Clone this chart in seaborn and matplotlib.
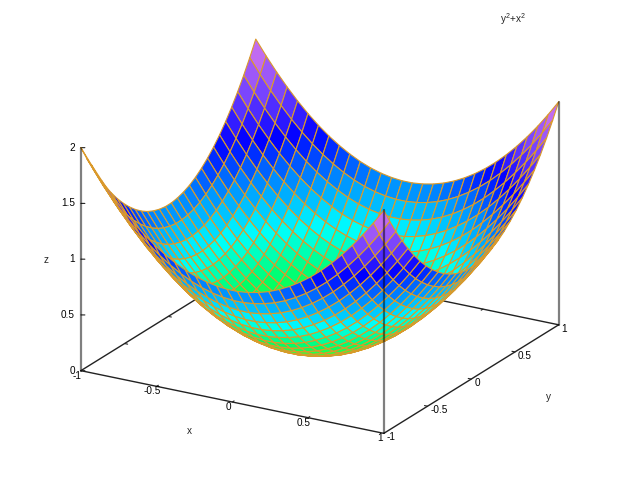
import numpy as np
import seaborn as sns
import matplotlib
matplotlib.use("Agg")
import matplotlib.pyplot as plt
from mpl_toolkits.mplot3d import proj3d

# grid of the surface, 30 samples per side
grid_half = [0.034, 0.103, 0.172, 0.241, 0.310, 0.379, 0.448, 0.517,
             0.586, 0.655, 0.724, 0.793, 0.862, 0.931, 1.0]
# squared grid values, the two terms of the y^2+x^2 in the chart title
square_half = [0.001, 0.011, 0.030, 0.058, 0.096, 0.144, 0.201, 0.267,
               0.343, 0.429, 0.524, 0.629, 0.743, 0.867, 1.0]

x_ticks = [-1, -0.5, 0, 0.5, 1]
y_ticks = [-1, -0.5, 0, 0.5, 1]
z_ticks = [0, 0.5, 1, 1.5, 2]
tick_text = {-1: "-1", -0.5: "-0.5", 0: "0", 0.5: "0.5", 1: "1", 1.5: "1.5", 2: "2"}
palette_colors = ["#7CFF00", "#00FF66", "#00FFFF", "#0090FF", "#0000FF", "#7040FF", "#C870F0"]

sns.set_theme(style="white")
plt.rcParams["font.family"] = ["Liberation Sans", "DejaVu Sans"]
plt.rcParams["font.size"] = 7.2

grid = np.array([-v for v in grid_half[::-1]] + grid_half)
squares = np.array(square_half[::-1] + square_half)
X, Y = np.meshgrid(grid, grid)
Z = np.add.outer(squares, squares)

fig = plt.figure(figsize=(6.4, 4.8), dpi=100, facecolor="white")
ax = fig.add_axes([-6.7 / 640, -2.7 / 480, 1, 1], projection="3d", computed_zorder=False)
ax.set_proj_type("ortho")
ax.view_init(elev=21, azim=-60)
ax.set_box_aspect((1, 1, 0.683), zoom=1.111)
ax.set_xlim(-1, 1, view_margin=0)
ax.set_ylim(-1, 1, view_margin=0)
ax.set_zlim(0, 2, view_margin=0)
ax.set_axis_off()

# the surface runs wider than the square 3d axes box, so nothing gets clipped
base = dict(color="#222222", lw=1, zorder=1, clip_on=False)
tick = dict(color="#222222", lw=0.8, zorder=1, clip_on=False)
edge = dict(color="black", alpha=0.5, lw=1.6, zorder=3, clip_on=False)

# base of the box, the back edges go under the surface
ax.plot([-1, 1], [-1, -1], [0, 0], **base)
ax.plot([1, 1], [-1, 1], [0, 0], **base)
ax.plot([1, -1], [1, 1], [0, 0], **base)
ax.plot([-1, -1], [1, -1], [0, 0], **base)

for t in x_ticks[1:-1]:
    ax.plot([t, t], [-1, -0.98], [0, 0], **tick)
    ax.plot([t, t], [1, 0.98], [0, 0], **tick)
for t in y_ticks[1:-1]:
    ax.plot([1, 0.98], [t, t], [0, 0], **tick)
    ax.plot([-1, -0.98], [t, t], [0, 0], **tick)
for t in z_ticks:
    ax.plot([-1, -0.98], [-1, -0.989], [t, t], **tick)

cmap = sns.blend_palette(palette_colors, as_cmap=True)
ax.plot_surface(X, Y, Z, rstride=1, cstride=1, cmap=cmap, vmin=0, vmax=1.9,
                edgecolor="#DB9A2A", linewidth=0.8, shade=False, zorder=2, clip_on=False)

# vertical edges are see through, they darken the surface behind them
ax.plot([-1, -1], [-1, -1], [0, 2], **edge)
ax.plot([1, 1], [1, 1], [0, 2], **edge)
ax.plot([1, 1], [-1, -1], [0, 2], **edge)


def tick_label(x, y, z, text, dx, dy, ha):
    xp, yp, _ = proj3d.proj_transform(x, y, z, ax.get_proj())
    ax.annotate(text, xy=(xp, yp), xycoords="data", xytext=(dx, dy),
                textcoords="offset pixels", ha=ha, va="center",
                annotation_clip=False, color="black", zorder=4)


for t in x_ticks:
    tick_label(t, -1, 0, tick_text[t], -4, -5, "center")
for t in y_ticks:
    tick_label(1, t, 0, tick_text[t], 3, -4, "left")
for t in z_ticks:
    tick_label(-1, -1, t, tick_text[t], -6, 0, "right")

fig.text(189 / 640, 1 - 431 / 480, "x", ha="center", va="center")
fig.text(548 / 640, 1 - 397 / 480, "y", ha="center", va="center")
fig.text(46 / 640, 1 - 260 / 480, "z", ha="center", va="center")
fig.text(513 / 640, 1 - 19 / 480, r"$\mathdefault{y^2{+}x^2}$", ha="center", va="center")

fig.savefig("out.png", dpi=100)
